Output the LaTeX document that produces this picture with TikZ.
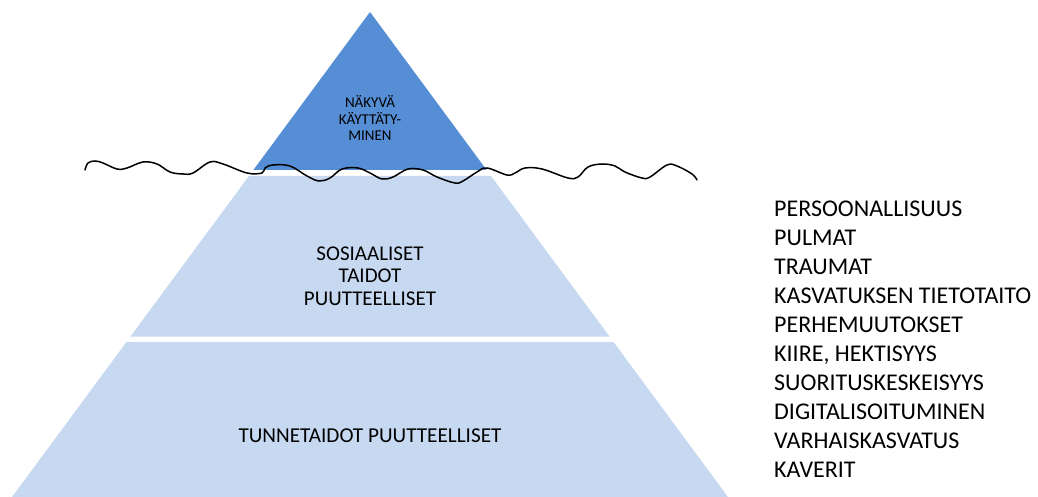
\documentclass[tikz,border=0pt]{standalone}
\usepackage{fontspec}
\setmainfont{Carlito}
\usepackage{tikz}
\definecolor{tipcol}{RGB}{85,142,213}
\definecolor{basecol}{RGB}{198,217,241}

\begin{document}
\begin{tikzpicture}[x=1pt, y=-1pt,
    layer/.style={fill=basecol, draw=none},
    label/.style={align=center, inner sep=0pt, text=black},
    factor/.style={anchor=base west, inner sep=0pt, text=black,
        font=\fontsize{24}{28}\selectfont}]
    \useasboundingbox (0,0) rectangle (1038,497);

    % iceberg
    \fill[tipcol] (370,12) -- (253.4,170) -- (486.6,170) -- cycle;
    \fill[layer] (249,176) -- (491,176) -- (609.5,336.5) -- (130.5,336.5) -- cycle;
    \fill[layer] (126.5,342) -- (613.5,342) -- (728,497) -- (12,497) -- cycle;

    \node[label, font=\fontsize{15}{16.9}\selectfont] (tip) at (370,118) {NÄKYVÄ\\KÄYTTÄTY-\\MINEN};
    \node[label, font=\fontsize{21}{22.4}\selectfont] (social) at (370,276) {SOSIAALISET\\TAIDOT\\PUUTTEELLISET};
    \node[label, font=\fontsize{21.2}{24}\selectfont] (emotion) at (370,436) {TUNNETAIDOT PUUTTEELLISET};

    % water line
    \draw[line width=1.5pt, line cap=round] plot[smooth, tension=0.6] coordinates {
        (85,170) (88,163) (95,161) (103,163) (117,169) (127,168) (143,162) (157,164)
        (170,172) (183,174) (193,173) (210,162) (223,164) (247,173) (262,173) (265,168)
        (273,165) (290,166) (307,176) (319,181) (330,178) (342,169) (358,168) (370,173)
        (382,179) (393,177) (408,169) (423,170) (437,177) (455,183) (463,181) (477,172)
        (487,168) (507,175) (515,173) (525,168) (542,169) (568,178) (578,177) (588,167)
        (602,164) (615,166) (625,172) (642,178) (650,177) (667,165) (677,166) (692,174)
        (697,180)};

    % factors
    \foreach \t [count=\i] in {PERSOONALLISUUS, PULMAT, TRAUMAT, KASVATUKSEN TIETOTAITO,
        PERHEMUUTOKSET, {KIIRE, HEKTISYYS}, SUORITUSKESKEISYYS, DIGITALISOITUMINEN,
        VARHAISKASVATUS, KAVERIT}
        \node[factor] (f\i) at (774, 216+29.1*\i-29.1) {\t};
\end{tikzpicture}
\end{document}
